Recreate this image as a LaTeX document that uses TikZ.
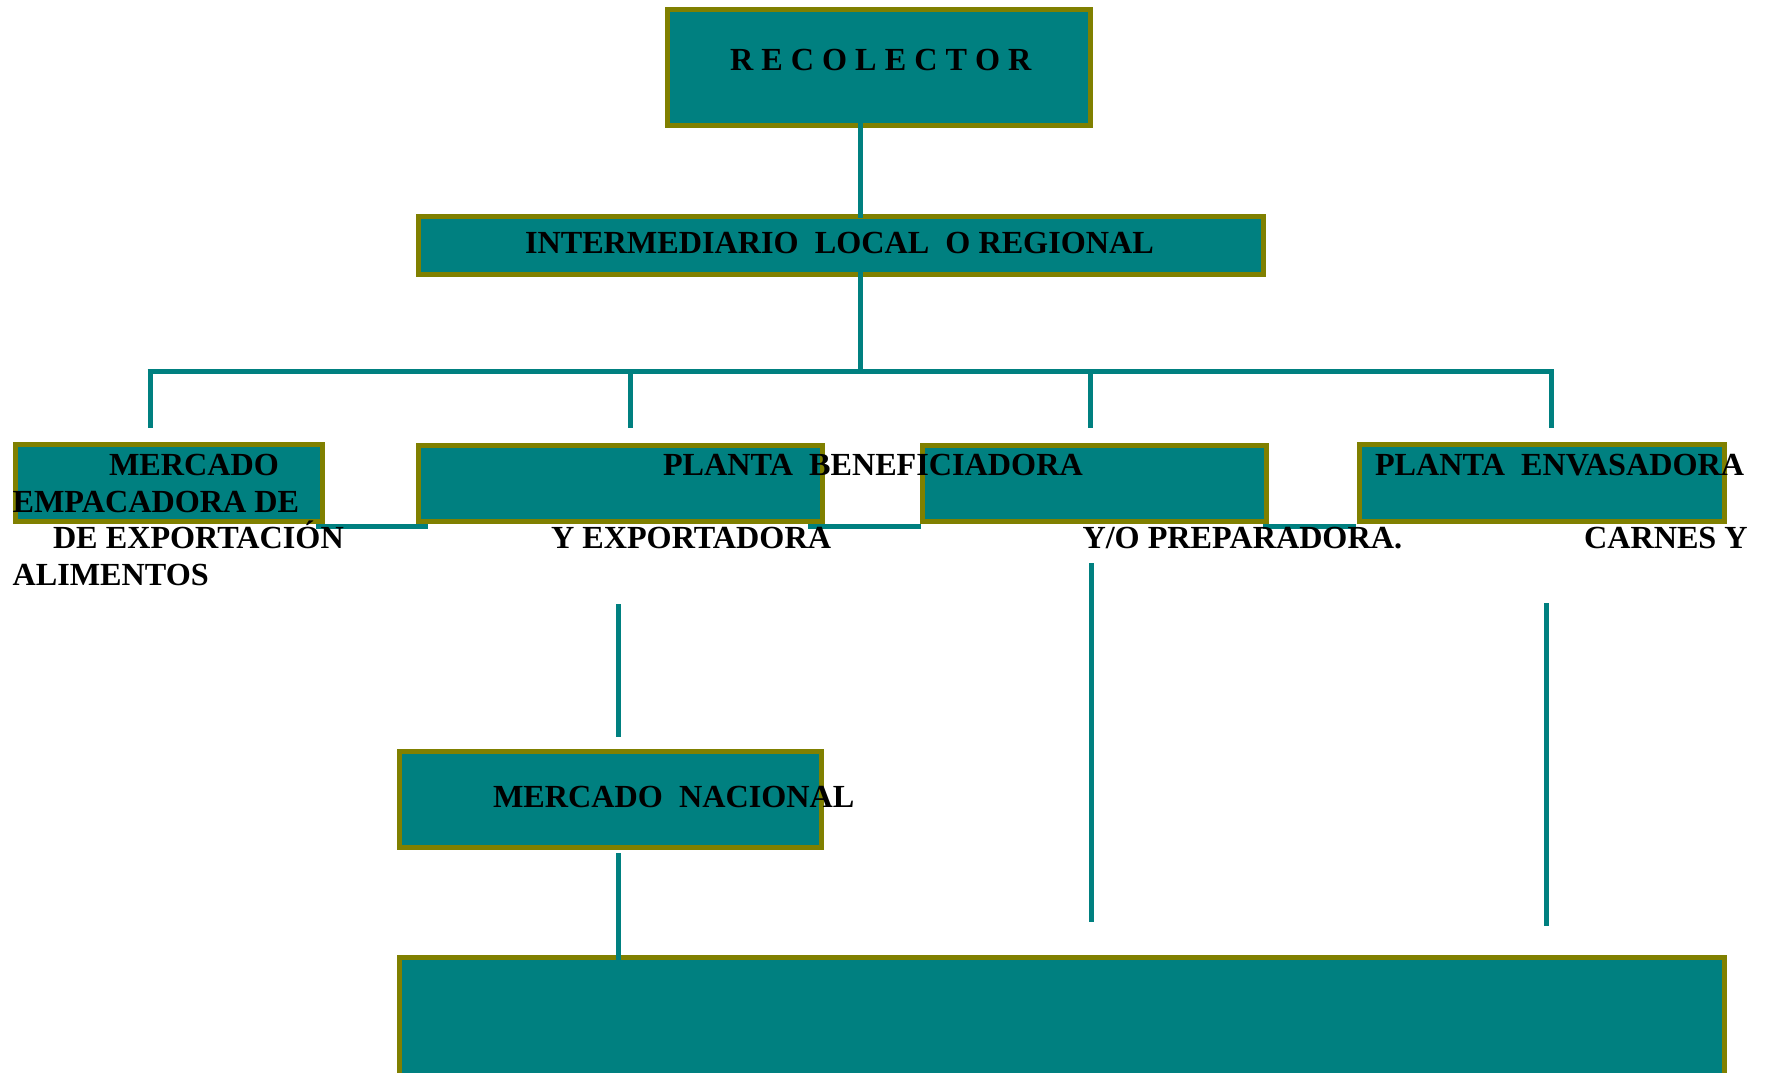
\documentclass[tikz,border=0pt]{standalone}
\usepackage{fontspec}
\setmainfont{Liberation Serif}
\definecolor{tealc}{RGB}{0,128,128}
\definecolor{olivec}{RGB}{128,128,0}
\begin{document}
\begin{tikzpicture}[x=1pt,y=-1pt,
  box/.style={draw=olivec, fill=tealc, line width=5pt, inner sep=0pt, outer sep=0pt},
  link/.style={draw=tealc, line width=5pt},
  lbl/.style={anchor=base west, inner sep=0pt, outer sep=0pt, text=black,
              font=\bfseries\fontsize{32.2}{38}\selectfont}]
\useasboundingbox[fill=white] (0,0) rectangle (1767,1072);

% boxes
\node[box, minimum width=423pt, minimum height=116pt] (rec)   at (879,67.5) {};
\node[box, minimum width=845pt, minimum height=58pt]  (inter) at (841,245.5) {};
\node[box, minimum width=307pt, minimum height=77pt]  (b1)    at (169,483) {};
\node[box, minimum width=404pt, minimum height=76pt]  (b2)    at (620.5,483.5) {};
\node[box, minimum width=344pt, minimum height=76pt]  (b3)    at (1094.5,483.5) {};
\node[box, minimum width=365pt, minimum height=77pt]  (b4)    at (1542,483) {};
\node[box, minimum width=422pt, minimum height=96pt]  (nac)   at (610.5,799.5) {};
\begin{scope}
\clip (0,0) rectangle (1767,1072);
\node[box, minimum width=1325pt, minimum height=135pt] (fin)  at (1062,1025) {};
\end{scope}

% connector end points
\coordinate (recout)   at (860,123);
\coordinate (interin)  at (860,218);
\coordinate (interout) at (860,272);
\coordinate (hub)      at (860,371);
\coordinate (hL)       at (147.5,371);
\coordinate (hR)       at (1553.5,371);
\coordinate (d1a) at (150,371);   \coordinate (d1b) at (150,428);
\coordinate (d2a) at (630,371);   \coordinate (d2b) at (630,428);
\coordinate (d3a) at (1090.5,371);\coordinate (d3b) at (1090.5,428);
\coordinate (d4a) at (1551,371);  \coordinate (d4b) at (1551,428);
\coordinate (s1a) at (316,526);   \coordinate (s1b) at (428,526);
\coordinate (s2a) at (808,526);   \coordinate (s2b) at (921,526);
\coordinate (s3a) at (1263,526);  \coordinate (s3b) at (1356,526);
\coordinate (v1a) at (618,604);   \coordinate (v1b) at (618,737);
\coordinate (v2a) at (618,853);   \coordinate (v2b) at (618,960);
\coordinate (v3a) at (1091,563);  \coordinate (v3b) at (1091,922);
\coordinate (v4a) at (1546,603);  \coordinate (v4b) at (1546,926);

% connectors
\draw[link] (recout) -- (interin);
\draw[link] (interout) -- (hub);
\draw[link] (hL) -- (hR);
\draw[link] (d1a) -- (d1b);
\draw[link] (d2a) -- (d2b);
\draw[link] (d3a) -- (d3b);
\draw[link] (d4a) -- (d4b);
\draw[link] (s1a) -- (s1b);
\draw[link] (s2a) -- (s2b);
\draw[link] (s3a) -- (s3b);
\draw[link] (v1a) -- (v1b);
\draw[link] (v2a) -- (v2b);
\draw[link] (v3a) -- (v3b);
\draw[link] (v4a) -- (v4b);

% texts
\node[lbl] (trec)   at (730,70)    {R E C O L E C T O R};
\node[lbl] (tinter) at (525,253)   {INTERMEDIARIO\ \ LOCAL\ \ O REGIONAL};
\node[lbl] (t1a)    at (109,475)   {MERCADO};
\node[lbl] (t2a)    at (663,475)   {PLANTA\ \ BENEFICIADORA};
\node[lbl] (t4a)    at (1375,475)  {PLANTA\ \ ENVASADORA};
\node[lbl] (t1b)    at (12.6,512)  {EMPACADORA DE};
\node[lbl] (t1c)    at (53,548)    {DE EXPORTACIÓN};
\node[lbl] (t2b)    at (551,548)   {Y EXPORTADORA};
\node[lbl] (t3b)    at (1082.5,548){Y/O PREPARADORA.};
\node[lbl] (t4b)    at (1584,548)  {CARNES Y};
\node[lbl] (t1d)    at (12.6,585)  {ALIMENTOS};
\node[lbl] (tnac)   at (493,807)   {MERCADO\ \ NACIONAL};
\end{tikzpicture}
\end{document}
